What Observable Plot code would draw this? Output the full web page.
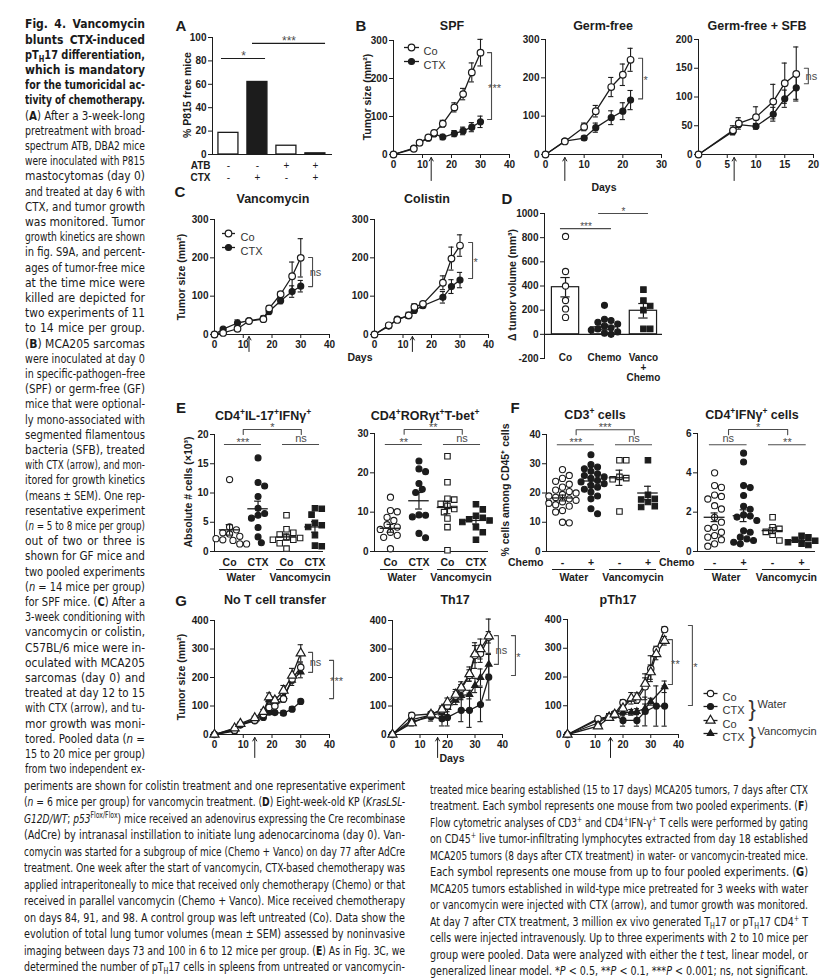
<!DOCTYPE html>
<html>
<head>
<meta charset="utf-8">
<script src="https://cdn.jsdelivr.net/npm/d3@7"></script>
<script src="https://cdn.jsdelivr.net/npm/@observablehq/plot@0.6"></script>
<style>
html,body{margin:0;padding:0;background:#fff;}
#fig{position:relative;width:835px;height:978px;overflow:hidden;background:#fff;color:#1a1a1a;font-family:"Liberation Sans",Arial,Helvetica,sans-serif;}
.pl{position:absolute;line-height:0;}
.lbl{position:absolute;white-space:nowrap;line-height:1;}
.txt{position:absolute;white-space:nowrap;font-family:"Liberation Sans Narrow","Arial Narrow","DejaVu Sans Condensed","Liberation Sans",sans-serif;transform-origin:0 50%;color:#1a1a1a;}
sup,sub{font-size:68%;line-height:0;}
</style>
</head>
<body>
<div id="fig"></div>
<script>
// ======================= DATA =======================
// A: % P815-free mice
const aValues = [18.5, 62, 7.5, 1];
const aATB = ["-", "-", "+", "+"];
const aCTX = ["-", "+", "-", "+"];
// B: SPF
const spfDays = [0, 7, 9, 12, 14, 17, 21, 24, 27, 30];
const spfCo = [0, 15, 31, 45, 57, 81, 124, 159, 216, 268];
const spfCoErr = [0, 4, 4, 5, 6, 9, 12, 15, 25, 35];
const spfCtx = [0, 17, 31, 43, 54, 46, 55, 62, 72, 86];
const spfCtxErr = [0, 4, 4, 5, 5, 7, 8, 10, 12, 15];
// B: Germ-free
const gfDays = [0, 5, 10, 13, 17, 20, 22];
const gfCo = [0, 34, 72, 113, 176, 208, 247];
const gfCoErr = [0, 4, 10, 15, 25, 28, 30];
const gfCtx = [0, 35, 43, 70, 96, 113, 142];
const gfCtxErr = [0, 4, 5, 12, 18, 22, 25];
// B: Germ-free + SFB
const sfbDays = [0, 6, 7, 10, 13, 15, 17];
const sfbCo = [0, 42, 54, 65, 92, 124, 140];
const sfbCoErr = [0, 8, 10, 18, 30, 35, 47];
const sfbCtx = [0, 40, 52, 49, 70, 97, 116];
const sfbCtxErr = [0, 5, 5, 5, 12, 15, 20];
// C: Vancomycin / Colistin
const vanDays = [0, 3, 8, 12, 17, 19, 23, 27, 30];
const vanCo = [0, 4, 15, 35, 40, 68, 105, 152, 200];
const vanCoErr = [0, 2, 5, 5, 5, 6, 6, 37, 50];
const vanCtx = [0, 14, 30, 36, 42, 60, 88, 112, 126];
const vanCtxErr = [0, 4, 8, 5, 6, 8, 8, 15, 15];
const colDays = [0, 5, 8, 12, 14, 17, 24, 27, 30];
const colCo = [0, 24, 38, 50, 72, 80, 135, 198, 232];
const colCoErr = [0, 4, 5, 8, 8, 6, 18, 30, 28];
const colCtx = [0, 22, 40, 49, 63, 75, 97, 125, 142];
const colCtxErr = [0, 4, 5, 6, 8, 6, 15, 18, 20];
// D: delta tumor volume
const dCategories = ["Co", "Chemo", "Vanco\n+\nChemo"];
const dMeans = [390, 58, 195];
const dSem = [80, 20, 60];
const dCo = [810, 520, 400, 280, 210, 140];
const dChemo = [240, 125, 115, 100, 85, 70, 55, 45, 35, 20, 10, 0];
const dVanco = [370, 280, 235, 200, 45, 45];
// E
const eCategories = ["Co", "CTX", "Co", "CTX"];
const fCategories = ["-", "+", "-", "+"];
const treatGroups = ["Water", "Vancomycin"];
const e1Values = [
  [12.3, 4.2, 3.7, 3.2, 3.0, 2.6, 2.2, 2.0, 1.9, 1.3, 1.3],
  [16.0, 11.8, 11.2, 9.4, 7.4, 6.5, 6.2, 5.7, 4.1, 2.5, 1.5],
  [6.2, 3.8, 3.2, 2.9, 2.4, 2.3, 2.0, 2.0, 1.4, 0.5],
  [7.4, 7.3, 6.3, 4.9, 4.5, 4.2, 2.8, 1.0, 0.9]
];
const e1Mean = [3.7, 7.3, 2.5, 4.2];
const e1Sem = [0.9, 1.3, 0.5, 0.9];
const e2Values = [
  [13.8, 10.4, 10.1, 8.7, 7.9, 6.8, 6.2, 5.6, 4.9, 4.1, 3.6, 0.7],
  [23, 21, 20.3, 17.3, 15.8, 15, 9.3, 9.2, 8.8, 4.6, 3.5],
  [24.2, 17.6, 13.4, 13.2, 12.1, 11.6, 10.8, 10.0, 8.4, 6.2, 0.3],
  [12, 10.7, 9.1, 8.6, 8.2, 7.9, 7.5, 6.2, 4.9, 3.0]
];
const e2Mean = [5.9, 12.9, 11.2, 7.9];
const e2Sem = [1.0, 2.1, 1.6, 0.9];
// F
const f1Values = [
  [28, 26, 25, 24, 23, 22, 21, 20.5, 20, 19.5, 19, 18.5, 18, 17.5, 17, 16.5, 16, 15.5, 14, 13.5, 10, 9.8],
  [33.1, 29.7, 28.9, 28.3, 27.4, 26.6, 26, 25.5, 25, 24.3, 23.8, 23.2, 22.6, 22, 21.3, 20.3, 19, 18, 14.6, 12.9],
  [31.2, 31.2, 25.5, 25.1, 24.7, 13.7],
  [31.2, 19.4, 18, 17.8, 16.9, 15.5, 15.2]
];
const f1Mean = [18.3, 24.1, 25.2, 20.0];
const f1Sem = [1.0, 1.1, 2.6, 2.3];
const f2Values = [
  [4.0, 3.35, 3.26, 2.87, 2.8, 2.67, 2.33, 2.16, 1.74, 1.49, 1.23, 1.18, 0.98, 0.81, 0.73, 0.6, 0.39, 0.27],
  [5.0, 4.55, 3.35, 3.25, 2.85, 2.3, 2.15, 1.86, 1.8, 1.75, 1.58, 1.05, 0.98, 0.73, 0.64, 0.56, 0.47, 0.39],
  [1.74, 1.23, 1.15, 1.0, 0.85, 0.56],
  [0.8, 0.72, 0.6, 0.55, 0.47, 0.4, 0.33]
];
const f2Mean = [1.74, 1.82, 1.06, 0.55];
const f2Sem = [0.22, 0.3, 0.15, 0.05];
// G: No T cell transfer
const g1Days = [0, 7, 9, 14, 17, 19, 21, 24, 27, 30];
const g1WaterCo = [0, 15, 35, 50, 70, 95, 100, 125, 195, 236];
const g1WaterCoErr = [0, 3, 4, 5, 6, 10, 10, 12, 15, 15];
const g1WaterCtx = [0, 12, 33, 48, 60, 78, 77, 75, 89, 116];
const g1WaterCtxErr = [0, 3, 4, 4, 5, 6, 6, 8, 8, 8];
const g1VancoCo = [0, 22, 38, 58, 80, 131, 120, 154, 207, 285];
const g1VancoCoErr = [0, 4, 5, 6, 8, 15, 12, 18, 25, 30];
const g1VancoCtx = [0, 20, 36, 52, 74, 122, 115, 133, 190, 219];
const g1VancoCtxErr = [0, 4, 4, 5, 6, 12, 10, 12, 18, 20];
// G: Th17
const g2Days = [0, 7, 14, 18, 20, 23, 25, 28, 30, 32, 35];
const g2WaterCo = [0, 67, 72, 85, 100, 135, 160, 207, 277, 283, 341];
const g2WaterCoErr = [0, 10, 8, 10, 12, 15, 15, 20, 45, 30, 20];
const g2CtxDays = [0, 7, 14, 18, 20, 25, 28, 32, 35];
const g2WaterCtx = [0, 45, 62, 55, 60, 85, 85, 105, 201];
const g2WaterCtxErr = [0, 10, 15, 25, 30, 40, 60, 60, 80];
const g2VancoCo = [0, 40, 70, 88, 113, 140, 165, 212, 282, 300, 345];
const g2VancoCoErr = [0, 10, 10, 12, 15, 18, 20, 25, 30, 35, 60];
const g2VancoCtx = [0, 52, 68, 75, 95, 120, 137, 140, 172, 200, 246];
const g2VancoCtxErr = [0, 8, 10, 12, 15, 15, 15, 15, 25, 30, 35];
// G: pTh17
const g3CoDays = [0, 11, 15, 17, 20, 25, 28, 30, 32, 35];
const g3WaterCo = [0, 55, 62, 72, 111, 120, 166, 229, 295, 365];
const g3WaterCoErr = [0, 8, 8, 8, 10, 12, 45, 45, 12, 10];
const g3CtxDays = [0, 11, 15, 17, 20, 25, 28, 32, 35];
const g3WaterCtx = [0, 51, 60, 68, 49, 49, 80, 99, 99];
const g3WaterCtxErr = [0, 8, 10, 10, 20, 20, 50, 70, 70];
const g3VDays = [0, 11, 15, 17, 20, 23, 25, 28, 30, 32, 35];
const g3VancoCo = [0, 29, 58, 70, 91, 126, 130, 177, 217, 280, 326];
const g3VancoCoErr = [0, 5, 8, 8, 15, 20, 15, 20, 25, 20, 15];
const g3VCtxDays = [0, 11, 15, 17, 20, 23, 25, 28, 30, 35];
const g3VancoCtx = [0, 40, 65, 70, 77, 77, 80, 91, 114, 166];
const g3VancoCtxErr = [0, 6, 8, 8, 12, 10, 10, 15, 12, 20];

// ======================= HELPERS =======================
const INK = "#1c1c1c", GRAY = "#4c4c4c";
const fig = document.getElementById("fig");
const hSeg = {draw(ctx, size) { const w = Math.sqrt(size / Math.PI); ctx.moveTo(-w, 0); ctx.lineTo(w, 0); }};

function mount(fr, opts) {
  const ml = 50, mr = 90, mt = 40, mb = 50;
  const svg = Plot.plot({
    width: fr.x1 - fr.x0 + ml + mr,
    height: fr.y1 - fr.y0 + mt + mb,
    marginLeft: ml, marginRight: mr, marginTop: mt, marginBottom: mb,
    style: {background: "transparent", overflow: "visible", maxWidth: "none",
      fontFamily: "'Liberation Sans', Arial, sans-serif", fontSize: "10px", fontWeight: "bold", color: INK},
    ...opts
  });
  const holder = document.createElement("div");
  holder.className = "pl";
  holder.style.left = (fr.x0 - ml) + "px";
  holder.style.top = (fr.y0 - mt) + "px";
  holder.appendChild(svg);
  fig.appendChild(holder);
}
const yAxis = (domain, ticks) => ({domain, ticks, line: true, tickSize: 4, tickPadding: 2, label: null, tickFormat: d => String(d)});
const xAxis = (domain, ticks) => ({domain, ticks, line: true, tickSize: 4, tickPadding: 2, label: null, tickFormat: d => String(d)});

function label(html, x, y, o = {}) {
  const el = document.createElement("div");
  el.className = "lbl";
  el.innerHTML = html;
  el.style.left = x + "px"; el.style.top = y + "px";
  el.style.fontSize = (o.size || 12) + "px";
  el.style.fontWeight = o.weight || "bold";
  el.style.color = o.color || INK;
  const tx = o.anchor === "start" ? "0" : o.anchor === "end" ? "-100%" : "-50%";
  el.style.transform = `translate(${tx},-50%)` + (o.rotate ? ` rotate(${o.rotate}deg)` : "");
  fig.appendChild(el);
}

function starText(rows, xf, yf, size, dyStar, dyNs) {
  return [
    Plot.text(rows.filter(r => r.t !== "ns"), {x: xf, y: yf, text: "t", fill: GRAY, fontSize: size, fontWeight: "normal", dy: dyStar}),
    Plot.text(rows.filter(r => r.t === "ns"), {x: xf, y: yf, text: "t", fill: GRAY, fontSize: size, fontWeight: "normal", dy: dyNs})
  ];
}

function growth(cfg) {
  const {fr, xd, xt, yd, yt, series, arrowDay, arrowPx, brackets, legend} = cfg;
  const kX = (xd[1] - xd[0]) / (fr.x1 - fr.x0), kY = (yd[1] - yd[0]) / (fr.y1 - fr.y0);
  const cap = 2.6 * kX;
  const marks = [];
  series.forEach(s => { s.rows = s.days.map((d, i) => ({d, v: s.vals[i], e: s.errs[i]})); });
  series.forEach(s => marks.push(Plot.line(s.rows, {x: "d", y: "v", stroke: INK, strokeWidth: 1.3})));
  series.forEach(s => {
    const er = s.rows.filter(r => r.e > 0);
    marks.push(Plot.ruleX(er, {x: "d", y1: r => r.v - r.e, y2: r => r.v + r.e, stroke: INK, strokeWidth: 1.1}));
    marks.push(Plot.ruleY(er, {y: r => r.v + r.e, x1: r => r.d - cap, x2: r => r.d + cap, stroke: INK, strokeWidth: 1.1}));
    marks.push(Plot.ruleY(er, {y: r => r.v - r.e, x1: r => r.d - cap, x2: r => r.d + cap, stroke: INK, strokeWidth: 1.1}));
  });
  series.forEach(s => marks.push(Plot.dot(s.rows, {x: "d", y: "v", symbol: s.symbol, r: s.r, fill: s.fill, stroke: INK, strokeWidth: 1.2})));
  marks.push(Plot.arrow([{x: arrowDay}], {x1: "x", x2: "x", y1: () => yd[0] - arrowPx[0] * kY, y2: () => yd[0] - arrowPx[1] * kY,
    stroke: INK, strokeWidth: 1, headLength: 6, headAngle: 60}));
  brackets.forEach(b => {
    const w = 4 * kX;
    marks.push(Plot.line([{x: b.x - w, y: b.y1}, {x: b.x, y: b.y1}, {x: b.x, y: b.y2}, {x: b.x - w, y: b.y2}],
      {x: "x", y: "y", stroke: GRAY, strokeWidth: 1.1}));
    marks.push(...starText([{t: b.t, x: b.x + 3 * kX, y: (b.y1 + b.y2) / 2}], "x", "y", 11, 2, 0)
      .map(m => m));
  });
  if (legend) {
    legend.items.forEach((it, k) => {
      const dy = legend.dys[k];
      marks.push(Plot.dot([0], {frameAnchor: "top-left", dx: legend.cx, dy, symbol: hSeg, r: legend.half, fill: "none", stroke: INK, strokeWidth: 1.3}));
      marks.push(Plot.dot([0], {frameAnchor: "top-left", dx: legend.cx, dy, symbol: it.symbol, r: it.r, fill: it.fill, stroke: INK, strokeWidth: 1.2}));
      marks.push(Plot.text([it.label], {frameAnchor: "top-left", dx: legend.tx, dy, text: d => d, textAnchor: "start", fontSize: 11, fontWeight: "normal", fill: "#333"}));
    });
    (legend.extra || []).forEach(m => marks.push(m));
  }
  mount(fr, {x: xAxis(xd, xt), y: yAxis(yd, yt), marks});
}

function swarm(vals, pyPerUnit, pxPerUnit, r) {
  const idx = vals.map((_, i) => i).sort((a, b) => vals[b] - vals[a]);
  const placed = [], off = [];
  const d = 2 * r + 0.6;
  for (const i of idx) {
    const y = vals[i] * pyPerUnit;
    let best = 0;
    for (let k = 0; k < 40; k++) {
      const c = (k % 2 ? 1 : -1) * Math.ceil(k / 2) * d / 2;
      if (placed.every(p => Math.hypot(p.x - c, p.y - y) >= d)) { best = c; break; }
    }
    placed.push({x: best, y});
    off[i] = best / pxPerUnit;
  }
  return off;
}

const SYM = [
  {symbol: "circle", fill: "white", r: 3.1},
  {symbol: "circle", fill: INK, r: 3.0},
  {symbol: "square", fill: "white", r: 3.1},
  {symbol: "square", fill: INK, r: 3.1}
];

function catPanel(cfg) {
  const {fr, xd, yd, yt, values, means, sems, syms, cats, groups, sig, chemo, bars, barCats} = cfg;
  const pxX = (fr.x1 - fr.x0) / (xd[1] - xd[0]);
  const pyY = (fr.y1 - fr.y0) / (yd[1] - yd[0]);
  const marks = [];
  const stats = means.map((m, i) => ({i, m, s: sems[i]}));
  if (bars) marks.push(Plot.rect(stats, {x1: d => d.i - 0.35, x2: d => d.i + 0.35, y1: () => 0, y2: "m", fill: "white", stroke: INK, strokeWidth: 1.2}));
  marks.push(Plot.ruleY([0], {stroke: INK, strokeWidth: 1.2}));
  const semMarks = [
    Plot.ruleX(stats, {x: "i", y1: d => d.m - d.s, y2: d => d.m + d.s, stroke: INK, strokeWidth: 1.2}),
    Plot.ruleY(stats, {y: d => d.m + d.s, x1: d => d.i - 0.12, x2: d => d.i + 0.12, stroke: INK, strokeWidth: 1.2}),
    Plot.ruleY(stats, {y: d => d.m - d.s, x1: d => d.i - 0.12, x2: d => d.i + 0.12, stroke: INK, strokeWidth: 1.2})
  ];
  if (bars) marks.push(...semMarks);
  values.forEach((vals, g) => {
    const off = swarm(vals, pyY, pxX, syms[g].r);
    const rows = vals.map((v, k) => ({x: g + off[k], y: v}));
    marks.push(Plot.dot(rows, {x: "x", y: "y", symbol: syms[g].symbol, r: syms[g].r, fill: syms[g].fill, stroke: INK, strokeWidth: 1.1}));
  });
  if (!bars) {
    marks.push(Plot.ruleY(stats, {y: "m", x1: d => d.i - 0.36, x2: d => d.i + 0.36, stroke: INK, strokeWidth: 1.3}));
    marks.push(...semMarks);
  }
  if (cats) {
    marks.push(Plot.text(cats, {x: (d, i) => i, y: () => yd[0], dy: 11, text: d => d, fontSize: 10.5}));
    const gr = groups.map((g, k) => ({g, x1: k === 0 ? -0.35 : 1.65, x2: k === 0 ? 1.15 : 3.3}));
    marks.push(Plot.ruleY(gr, {y: () => yd[0], x1: "x1", x2: "x2", dy: 18, stroke: INK, strokeWidth: 1}));
    marks.push(Plot.text(gr, {x: d => (d.x1 + d.x2) / 2, y: () => yd[0], dy: 26, text: "g", fontSize: 10.5}));
  }
  if (chemo) marks.push(Plot.text(["Chemo"], {x: () => xd[0], y: () => yd[0], dx: -3, dy: 11, text: d => d, textAnchor: "end", fontSize: 10.5}));
  if (barCats) marks.push(Plot.text(barCats, {x: (d, i) => i, y: () => yd[0], lineAnchor: "top", dy: -5, lineHeight: 1, text: d => d, fontSize: 10}));
  if (sig) {
    if (sig.custom) {
      marks.push(Plot.ruleY(sig.custom, {y: "y", x1: "x1", x2: "x2", stroke: GRAY, strokeWidth: 1.1}));
      marks.push(...starText(sig.custom, d => (d.x1 + d.x2) / 2, "y", sig.size || 11, -2, -6));
    } else {
      const [Ly, Ty, Dy] = sig.levels;
      const segs = [{x1: -0.18, x2: 1.12, y: Ly, t: sig.labels[0]}, {x1: 1.86, x2: 3.16, y: Ly, t: sig.labels[1]}];
      marks.push(Plot.ruleY(segs, {y: "y", x1: "x1", x2: "x2", stroke: GRAY, strokeWidth: 1.1}));
      marks.push(Plot.line([{x: 0.48, y: Dy}, {x: 0.48, y: Ty}, {x: 2.52, y: Ty}, {x: 2.52, y: Dy}], {x: "x", y: "y", stroke: GRAY, strokeWidth: 1.1}));
      marks.push(...starText([...segs, {x1: 0.48, x2: 2.52, y: Ty, t: sig.labels[2]}], d => (d.x1 + d.x2) / 2, "y", 11, -2, -6));
    }
  }
  mount(fr, {x: {domain: xd, axis: null}, y: yAxis(yd, yt), marks});
}

// ======================= PANEL A =======================
{
  const fr = {x0: 212, x1: 332, y0: 37, y1: 154};
  const xd = [-0.55, 3.59];
  const rows = aValues.map((v, i) => ({i, v, ctx: aCTX[i]}));
  const sig = [{x1: -0.24, x2: 1.28, y: 82, t: "*"}, {x1: 0.83, x2: 3.35, y: 95, t: "***"}];
  const marks = [
    Plot.rect(rows, {x1: d => d.i - 0.345, x2: d => d.i + 0.345, y1: () => 0, y2: "v", fill: d => d.ctx === "+" ? INK : "white", stroke: INK, strokeWidth: 1.3}),
    Plot.ruleY([0], {stroke: INK, strokeWidth: 1.2}),
    Plot.text(aATB, {x: (d, i) => i, y: () => 0, dy: 11, text: d => d, fontSize: 10, fontWeight: "normal"}),
    Plot.text(aCTX, {x: (d, i) => i, y: () => 0, dy: 23, text: d => d, fontSize: 10, fontWeight: "normal"}),
    Plot.text(["ATB"], {x: () => -0.62, y: () => 0, dy: 11, text: d => d, textAnchor: "end", fontSize: 10}),
    Plot.text(["CTX"], {x: () => -0.62, y: () => 0, dy: 23, text: d => d, textAnchor: "end", fontSize: 10}),
    Plot.ruleY(sig, {y: "y", x1: "x1", x2: "x2", stroke: INK, strokeWidth: 1.1}),
    ...starText(sig, d => (d.x1 + d.x2) / 2, "y", 12, -2, -6)
  ];
  mount(fr, {x: {domain: xd, axis: null}, y: yAxis([0, 100], [0, 20, 40, 60, 80, 100]), marks});
}

// ======================= PANEL B =======================
const sCo = {symbol: "circle", fill: "white", r: 3.3};
const sCtx = {symbol: "circle", fill: INK, r: 3.0};
growth({
  fr: {x0: 393, x1: 509, y0: 40, y1: 154}, xd: [0, 40], xt: [0, 10, 20, 30, 40], yd: [0, 300], yt: [0, 100, 200, 300],
  series: [{days: spfDays, vals: spfCtx, errs: spfCtxErr, ...sCtx}, {days: spfDays, vals: spfCo, errs: spfCoErr, ...sCo}],
  arrowDay: 13, arrowPx: [26, 3],
  brackets: [{x: 33.8, y1: 268, y2: 92, t: "***"}],
  legend: {cx: 18, tx: 30, half: 7.5, dys: [7, 21], items: [{label: "Co", ...sCo}, {label: "CTX", ...sCtx}]}
});
growth({
  fr: {x0: 545, x1: 661, y0: 39, y1: 154}, xd: [0, 30], xt: [0, 10, 20, 30], yd: [0, 300], yt: [0, 100, 200, 300],
  series: [{days: gfDays, vals: gfCtx, errs: gfCtxErr, ...sCtx}, {days: gfDays, vals: gfCo, errs: gfCoErr, ...sCo}],
  arrowDay: 5, arrowPx: [26, 3],
  brackets: [{x: 25.1, y1: 251, y2: 145, t: "*"}]
});
growth({
  fr: {x0: 698, x1: 813, y0: 39, y1: 154}, xd: [0, 20], xt: [0, 5, 10, 15, 20], yd: [0, 200], yt: [0, 50, 100, 150, 200],
  series: [{days: sfbDays, vals: sfbCtx, errs: sfbCtxErr, ...sCtx}, {days: sfbDays, vals: sfbCo, errs: sfbCoErr, ...sCo}],
  arrowDay: 6.2, arrowPx: [26, 3],
  brackets: [{x: 19.1, y1: 150, y2: 123, t: "ns"}]
});

// ======================= PANEL C =======================
growth({
  fr: {x0: 214, x1: 329, y0: 219, y1: 334}, xd: [0, 40], xt: [0, 10, 20, 30, 40], yd: [0, 300], yt: [0, 100, 200, 300],
  series: [{days: vanDays, vals: vanCtx, errs: vanCtxErr, ...sCtx}, {days: vanDays, vals: vanCo, errs: vanCoErr, ...sCo}],
  arrowDay: 12, arrowPx: [17, 2],
  brackets: [{x: 34.1, y1: 201, y2: 125, t: "ns"}],
  legend: {cx: 14, tx: 26, half: 6.5, dys: [14, 28], items: [{label: "Co", ...sCo}, {label: "CTX", ...sCtx}]}
});
growth({
  fr: {x0: 374, x1: 488, y0: 219, y1: 334}, xd: [0, 40], xt: [0, 10, 20, 30, 40], yd: [0, 300], yt: [0, 100, 200, 300],
  series: [{days: colDays, vals: colCtx, errs: colCtxErr, ...sCtx}, {days: colDays, vals: colCo, errs: colCoErr, ...sCo}],
  arrowDay: 13.3, arrowPx: [17, 2],
  brackets: [{x: 34.4, y1: 240, y2: 146, t: "*"}]
});

// ======================= PANEL D =======================
catPanel({
  fr: {x0: 544, x1: 662, y0: 213, y1: 358}, xd: [-0.54, 2.49], yd: [-200, 1000], yt: [-200, 0, 200, 400, 600, 800, 1000],
  values: [dCo, dChemo, dVanco], means: dMeans, sems: dSem,
  syms: [SYM[0], SYM[1], SYM[3]], bars: true, barCats: dCategories,
  sig: {custom: [{x1: -0.13, x2: 1.18, y: 875, t: "***"}, {x1: 0.85, x2: 2.13, y: 1000, t: "*"}], size: 10}
});

// ======================= PANEL E =======================
catPanel({
  fr: {x0: 214, x1: 323, y0: 434, y1: 551}, xd: [-0.53, 3.3], yd: [0, 20], yt: [0, 5, 10, 15, 20],
  values: e1Values, means: e1Mean, sems: e1Sem, syms: SYM, cats: eCategories, groups: treatGroups,
  sig: {levels: [18.3, 20.85, 20.0], labels: ["***", "ns", "*"]}
});
catPanel({
  fr: {x0: 374, x1: 488, y0: 433, y1: 551}, xd: [-0.56, 3.44], yd: [0, 30], yt: [0, 10, 20, 30],
  values: e2Values, means: e2Mean, sems: e2Sem, syms: SYM, cats: eCategories, groups: treatGroups,
  sig: {levels: [27.2, 31.0, 29.8], labels: ["**", "ns", "**"]}
});

// ======================= PANEL F =======================
catPanel({
  fr: {x0: 546, x1: 660, y0: 434, y1: 551}, xd: [-0.56, 3.44], yd: [0, 40], yt: [0, 10, 20, 30, 40],
  values: f1Values, means: f1Mean, sems: f1Sem, syms: SYM, cats: fCategories, groups: treatGroups, chemo: true,
  sig: {levels: [36.5, 41.6, 39.9], labels: ["***", "ns", "***"]}
});
catPanel({
  fr: {x0: 697, x1: 815, y0: 433, y1: 551}, xd: [-0.59, 3.48], yd: [0, 6], yt: [0, 2, 4, 6],
  values: f2Values, means: f2Mean, sems: f2Sem, syms: SYM, cats: fCategories, groups: treatGroups, chemo: true,
  sig: {levels: [5.43, 6.2, 5.94], labels: ["ns", "**", "*"]}
});

// ======================= PANEL G =======================
const gWCo = {symbol: "circle", fill: "white", r: 3.2};
const gWCtx = {symbol: "circle", fill: INK, r: 3.0};
const gVCo = {symbol: "triangle", fill: "white", r: 3.4};
const gVCtx = {symbol: "triangle", fill: INK, r: 2.4};
growth({
  fr: {x0: 214, x1: 329, y0: 620, y1: 734}, xd: [0, 40], xt: [0, 10, 20, 30, 40], yd: [0, 400], yt: [0, 100, 200, 300, 400],
  series: [
    {days: g1Days, vals: g1WaterCtx, errs: g1WaterCtxErr, ...gWCtx},
    {days: g1Days, vals: g1VancoCtx, errs: g1VancoCtxErr, ...gVCtx},
    {days: g1Days, vals: g1WaterCo, errs: g1WaterCoErr, ...gWCo},
    {days: g1Days, vals: g1VancoCo, errs: g1VancoCoErr, ...gVCo}],
  arrowDay: 14, arrowPx: [23, 3],
  brackets: [{x: 34.1, y1: 288, y2: 218, t: "ns"}, {x: 41.4, y1: 260, y2: 126, t: "***"}]
});
growth({
  fr: {x0: 392, x1: 502, y0: 620, y1: 734}, xd: [0, 40], xt: [0, 10, 20, 30, 40], yd: [0, 400], yt: [0, 100, 200, 300, 400],
  series: [
    {days: g2CtxDays, vals: g2WaterCtx, errs: g2WaterCtxErr, ...gWCtx},
    {days: g2Days, vals: g2VancoCtx, errs: g2VancoCtxErr, ...gVCtx},
    {days: g2Days, vals: g2WaterCo, errs: g2WaterCoErr, ...gWCo},
    {days: g2Days, vals: g2VancoCo, errs: g2VancoCoErr, ...gVCo}],
  arrowDay: 16.4, arrowPx: [23, 3],
  brackets: [{x: 38.5, y1: 347, y2: 246, t: "ns"}, {x: 44.7, y1: 347, y2: 207, t: "*"}]
});
growth({
  fr: {x0: 567, x1: 678, y0: 619, y1: 734}, xd: [0, 40], xt: [0, 10, 20, 30, 40], yd: [0, 400], yt: [0, 100, 200, 300, 400],
  series: [
    {days: g3CtxDays, vals: g3WaterCtx, errs: g3WaterCtxErr, ...gWCtx},
    {days: g3VCtxDays, vals: g3VancoCtx, errs: g3VancoCtxErr, ...gVCtx},
    {days: g3CoDays, vals: g3WaterCo, errs: g3WaterCoErr, ...gWCo},
    {days: g3VDays, vals: g3VancoCo, errs: g3VancoCoErr, ...gVCo}],
  arrowDay: 15.5, arrowPx: [23, 3],
  brackets: [{x: 37.8, y1: 330, y2: 174, t: "**"}, {x: 45, y1: 379, y2: 101, t: "*"}],
  legend: {cx: 143, tx: 155, half: 7, dys: [74, 87, 101, 114],
    items: [{label: "Co", ...gWCo}, {label: "CTX", ...gWCtx}, {label: "Co", ...gVCo}, {label: "CTX", ...gVCtx}],
    extra: [
      Plot.text(["}"], {frameAnchor: "top-left", dx: 181, dy: 80.5, text: d => d, fontSize: 22, fontWeight: "normal", fill: "#333"}),
      Plot.text(["}"], {frameAnchor: "top-left", dx: 181, dy: 107.5, text: d => d, fontSize: 22, fontWeight: "normal", fill: "#333"}),
      Plot.text(["Water"], {frameAnchor: "top-left", dx: 190, dy: 81, text: d => d, textAnchor: "start", fontSize: 11, fontWeight: "normal", fill: "#333"}),
      Plot.text(["Vancomycin"], {frameAnchor: "top-left", dx: 190, dy: 108, text: d => d, textAnchor: "start", fontSize: 11, fontWeight: "normal", fill: "#333"})
    ]}
});

// ======================= LABELS =======================
[["A", 181, 25], ["B", 361, 25], ["C", 180, 191], ["D", 507, 198], ["E", 181, 407], ["F", 515, 407], ["G", 181, 600]]
  .forEach(([t, x, y]) => label(t, x, y, {size: 15}));
[["SPF", 452, 26], ["Germ-free", 603, 26], ["Germ-free + SFB", 757, 26], ["Vancomycin", 273, 199], ["Colistin", 427, 199],
 ["CD4<sup>+</sup>IL-17<sup>+</sup>IFNγ<sup>+</sup>", 263, 416], ["CD4<sup>+</sup>RORγt<sup>+</sup>T-bet<sup>+</sup>", 425, 416],
 ["CD3<sup>+</sup> cells", 595, 415], ["CD4<sup>+</sup>IFNγ<sup>+</sup> cells", 752, 415],
 ["No T cell transfer", 275, 600], ["Th17", 455, 600], ["pTh17", 618, 600]]
  .forEach(([t, x, y]) => label(t, x, y, {size: 12.5}));
[["% P815 free mice", 187, 95], ["Tumor size (mm²)", 367, 97], ["Tumor size (mm²)", 181, 277], ["Δ tumor volume (mm³)", 512, 285],
 ["Absolute # cells (×10³)", 188, 492], ["% cells among CD45⁺ cells", 505, 490], ["Tumor size (mm²)", 181, 677]]
  .forEach(([t, x, y]) => label(t, x, y, {size: 10.5, rotate: -90}));
[["Days", 604, 187], ["Days", 360, 357], ["Days", 452, 758]].forEach(([t, x, y]) => label(t, x, y, {size: 10.5}));

// ======================= TEXT =======================
function textLines(lines, x, yc0, width, lh, size) {
  lines.forEach((html, i) => {
    const el = document.createElement("div");
    el.className = "txt";
    el.innerHTML = html;
    el.style.left = x + "px";
    el.style.top = (yc0 + i * lh - lh / 2) + "px";
    el.style.height = lh + "px";
    el.style.lineHeight = lh + "px";
    el.style.fontSize = size + "px";
    fig.appendChild(el);
    const w = el.getBoundingClientRect().width;
    const spaces = (el.textContent.match(/ /g) || []).length;
    if (w > width) el.style.transform = `scaleX(${width / w})`;
    else if (spaces > 0) el.style.wordSpacing = ((width - w) / spaces) + "px";
  });
}
const sideLines = [
  "<b>Fig. 4. Vancomycin</b>", "<b>blunts CTX-induced</b>", "<b>pT<sub>H</sub>17 differentiation,</b>", "<b>which is mandatory</b>",
  "<b>for the tumoricidal ac-</b>", "<b>tivity of chemotherapy.</b>",
  "(<b>A</b>) After a 3-week-long", "pretreatment with broad-", "spectrum ATB, DBA2 mice", "were inoculated with P815",
  "mastocytomas (day 0)", "and treated at day 6 with", "CTX, and tumor growth", "was monitored. Tumor",
  "growth kinetics are shown", "in fig. S9A, and percent-", "ages of tumor-free mice", "at the time mice were",
  "killed are depicted for", "two experiments of 11", "to 14 mice per group.", "(<b>B</b>) MCA205 sarcomas",
  "were inoculated at day 0", "in specific-pathogen–free", "(SPF) or germ-free (GF)", "mice that were optional-",
  "ly mono-associated with", "segmented filamentous", "bacteria (SFB), treated", "with CTX (arrow), and mon-",
  "itored for growth kinetics", "(means ± SEM). One rep-", "resentative experiment", "(<i>n</i> = 5 to 8 mice per group)",
  "out of two or three is", "shown for GF mice and", "two pooled experiments", "(<i>n</i> = 14 mice per group)",
  "for SPF mice. (<b>C</b>) After a", "3-week conditioning with", "vancomycin or colistin,", "C57BL/6 mice were in-",
  "oculated with MCA205", "sarcomas (day 0) and", "treated at day 12 to 15", "with CTX (arrow), and tu-",
  "mor growth was moni-", "tored. Pooled data (<i>n</i> =", "15 to 20 mice per group)", "from two independent ex-"
];
const bottomLeftLines = [
  "periments are shown for colistin treatment and one representative experiment",
  "(<i>n</i> = 6 mice per group) for vancomycin treatment. (<b>D</b>) Eight-week-old KP (<i>KrasLSL-</i>",
  "<i>G12D/WT</i>; <i>p53</i><sup>Flox/Flox</sup>) mice received an adenovirus expressing the Cre recombinase",
  "(AdCre) by intranasal instillation to initiate lung adenocarcinoma (day 0). Van-",
  "comycin was started for a subgroup of mice (Chemo + Vanco) on day 77 after AdCre",
  "treatment. One week after the start of vancomycin, CTX-based chemotherapy was",
  "applied intraperitoneally to mice that received only chemotherapy (Chemo) or that",
  "received in parallel vancomycin (Chemo + Vanco). Mice received chemotherapy",
  "on days 84, 91, and 98. A control group was left untreated (Co). Data show the",
  "evolution of total lung tumor volumes (mean ± SEM) assessed by noninvasive",
  "imaging between days 73 and 100 in 6 to 12 mice per group. (<b>E</b>) As in Fig. 3C, we",
  "determined the number of pT<sub>H</sub>17 cells in spleens from untreated or vancomycin-"
];
const bottomRightLines = [
  "treated mice bearing established (15 to 17 days) MCA205 tumors, 7 days after CTX",
  "treatment. Each symbol represents one mouse from two pooled experiments. (<b>F</b>)",
  "Flow cytometric analyses of CD3<sup>+</sup> and CD4<sup>+</sup>IFN-γ<sup>+</sup> T cells were performed by gating",
  "on CD45<sup>+</sup> live tumor-infiltrating lymphocytes extracted from day 18 established",
  "MCA205 tumors (8 days after CTX treatment) in water- or vancomycin-treated mice.",
  "Each symbol represents one mouse from up to four pooled experiments. (<b>G</b>)",
  "MCA205 tumors established in wild-type mice pretreated for 3 weeks with water",
  "or vancomycin were injected with CTX (arrow), and tumor growth was monitored.",
  "At day 7 after CTX treatment, 3 million ex vivo generated T<sub>H</sub>17 or pT<sub>H</sub>17 CD4<sup>+</sup> T",
  "cells were injected intravenously. Up to three experiments with 2 to 10 mice per",
  "group were pooled. Data were analyzed with either the <i>t</i> test, linear model, or",
  "generalized linear model. *<i>P</i> &lt; 0.5, **<i>P</i> &lt; 0.1, ***<i>P</i> &lt; 0.001; ns, not significant."
];
textLines(sideLines, 25, 25, 120, 15.2, 12);
textLines(bottomLeftLines, 24, 786, 381, 16.5, 12);
textLines(bottomRightLines, 430, 790, 378, 16.5, 12);
</script>
</body>
</html>
